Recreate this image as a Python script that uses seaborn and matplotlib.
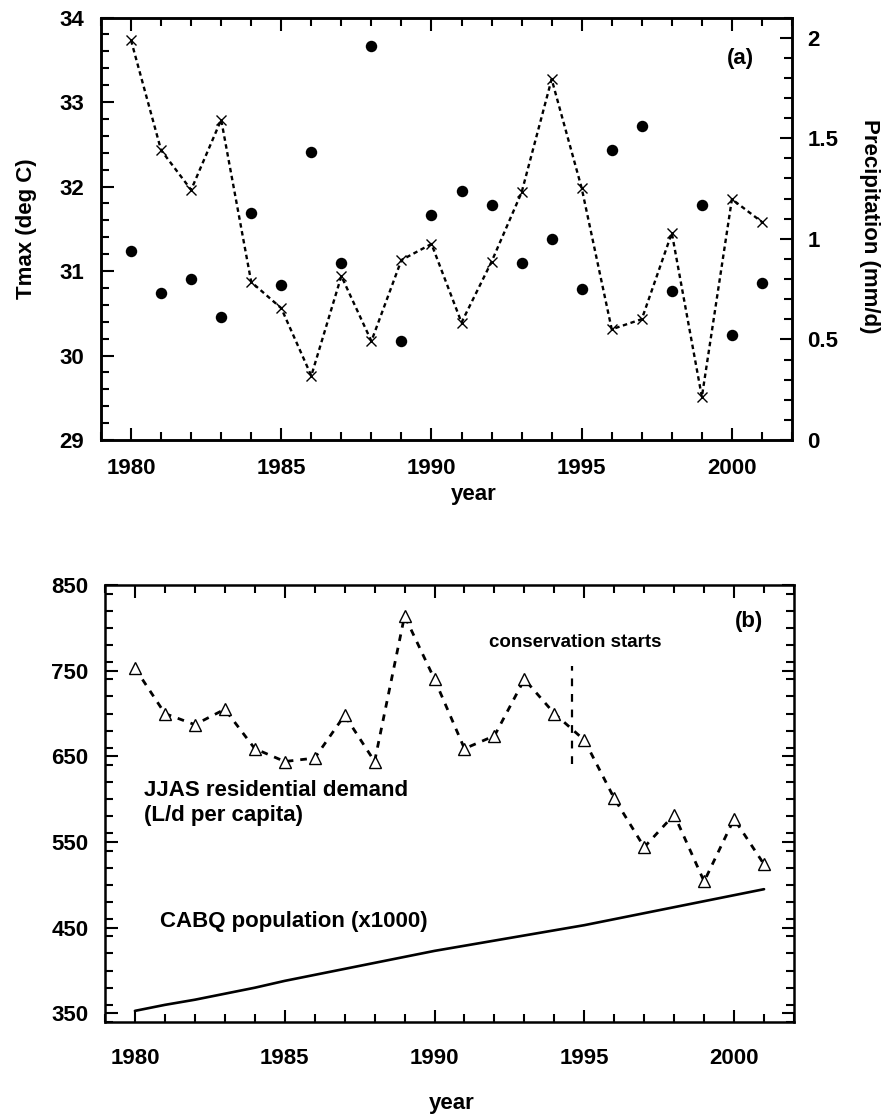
import numpy as np
import pandas as pd
import matplotlib
matplotlib.use("Agg")
import matplotlib.pyplot as plt
import seaborn as sns
from matplotlib.ticker import MultipleLocator

# ---------------- data ----------------
years = list(range(1980, 2002))
tmax = [33.73, 32.43, 31.96, 32.79, 30.87, 30.56, 29.76, 30.94, 30.17, 31.13, 31.32,
        30.39, 31.11, 31.93, 33.27, 31.98, 30.31, 30.43, 31.45, 29.51, 31.85, 31.58]
precip = [0.94, 0.73, 0.80, 0.61, 1.13, 0.77, 1.43, 0.88, 1.96, 0.49, 1.12,
          1.24, 1.17, 0.88, 1.00, 0.75, 1.44, 1.56, 0.74, 1.17, 0.52, 0.78]
demand = [753, 700, 687, 705, 659, 644, 648, 698, 644, 814, 740,
          659, 674, 740, 700, 669, 601, 544, 582, 504, 577, 524]
population = [353, 360, 366, 373, 380, 388, 395, 402, 409, 416, 423,
              429, 435, 441, 447, 453, 460, 467, 474, 481, 488, 495]
conservation_year = 1994.6
conservation_span = [641, 756]

df_a = pd.DataFrame({"year": years, "tmax": tmax, "precip": precip})
df_b = pd.DataFrame({"year": years, "demand": demand, "population": population})

# ---------------- style ----------------
sns.set_style("ticks")
plt.rcParams["font.family"] = ["Liberation Sans", "DejaVu Sans"]
plt.rcParams["font.weight"] = "bold"
plt.rcParams["axes.labelweight"] = "bold"
plt.rcParams["axes.edgecolor"] = "black"
plt.rcParams["xtick.color"] = "black"
plt.rcParams["ytick.color"] = "black"
plt.rcParams["text.color"] = "black"
plt.rcParams["axes.labelcolor"] = "black"

FS = 16
W, H = 882, 1114
fig = plt.figure(figsize=(W / 100, H / 100), dpi=100)
fig.patch.set_facecolor("white")

ax1 = fig.add_axes([101 / W, 1 - 440 / H, 691 / W, 422.5 / H])
ax3 = fig.add_axes([105 / W, 1 - 1022 / H, 689 / W, 437 / H])


def style(ax, top=True, right=True):
    for s in ax.spines.values():
        s.set_linewidth(1.8)
        s.set_color("black")
    ax.tick_params(which="both", direction="in", top=top, right=right,
                   width=1.5, colors="black", labelsize=FS)
    ax.tick_params(which="major", length=9)
    ax.tick_params(which="minor", length=5.5)


# ---------------- panel (a) ----------------
sns.lineplot(data=df_a, x="year", y="tmax", ax=ax1, color="black", lw=1.7,
             linestyle=(0, (1.9, 1.5)), marker="x", ms=7.5, mew=1.0,
             mec="black", mfc="none")
ax2 = ax1.twinx()
sns.scatterplot(data=df_a, x="year", y="precip", ax=ax2, color="black",
                s=68, edgecolor="black", linewidth=0)

ax1.set_xlim(1979, 2002)
ax1.set_ylim(29, 34)
ax2.set_ylim(0, 2.1)
ax1.xaxis.set_major_locator(MultipleLocator(5))
ax1.xaxis.set_minor_locator(MultipleLocator(1))
ax1.yaxis.set_major_locator(MultipleLocator(1))
ax1.yaxis.set_minor_locator(MultipleLocator(0.2))
ax2.yaxis.set_major_locator(MultipleLocator(0.5))
ax2.yaxis.set_minor_locator(MultipleLocator(0.1))
ax2.yaxis.set_major_formatter(plt.FuncFormatter(lambda v, p: f"{v:g}"))

style(ax1, top=True, right=False)
style(ax2, top=False, right=True)
ax2.tick_params(axis="y", which="both", left=False, right=True)
ax1.tick_params(axis="x", which="major", pad=13)
ax1.tick_params(axis="y", which="major", pad=12)
ax2.tick_params(axis="y", which="major", pad=11)

ax1.set_xlabel("year", fontsize=FS, fontweight="bold")
ax1.xaxis.set_label_coords((474 - 101) / 691, (440 - 484) / 422.5)
ax1.set_ylabel("Tmax (deg C)", fontsize=FS, fontweight="bold")
ax1.yaxis.label.set_va("center")
ax1.yaxis.set_label_coords((26 - 101) / 691, 0.5)
ax2.set_ylabel("Precipitation (mm/d)", fontsize=FS, fontweight="bold", rotation=270)
ax2.yaxis.label.set_va("center")
ax2.yaxis.set_label_coords((870 - 101) / 691, 0.505)

ax1.text(2000.3, 33.52, "(a)", fontsize=FS, fontweight="bold", ha="center", va="center")

# ---------------- panel (b) ----------------
sns.lineplot(data=df_b, x="year", y="demand", ax=ax3, color="black", lw=2.0,
             linestyle=(0, (2.4, 2.5)), marker="^", ms=8, mew=1.0,
             mec="black", mfc="white")
sns.lineplot(data=df_b, x="year", y="population", ax=ax3, color="black", lw=1.9)
ax3.plot([conservation_year, conservation_year], conservation_span, color="black",
         lw=1.6, linestyle=(0, (3.5, 3.5)))

ax3.set_xlim(1979, 2002)
ax3.set_ylim(340, 850)
ax3.xaxis.set_major_locator(MultipleLocator(5))
ax3.xaxis.set_minor_locator(MultipleLocator(1))
ax3.set_yticks([350, 450, 550, 650, 750, 850])
ax3.yaxis.set_minor_locator(MultipleLocator(20))
style(ax3, top=True, right=True)
ax3.tick_params(axis="x", which="major", pad=19)
ax3.tick_params(axis="y", which="major", pad=12)

ax3.set_xlabel("year", fontsize=FS, fontweight="bold")
ax3.xaxis.set_label_coords((452 - 105) / 689, (1022 - 1093) / 437)
ax3.set_ylabel("")

ax3.text(2000.5, 807, "(b)", fontsize=FS, fontweight="bold", ha="center", va="center")
ax3.text(1994.7, 783, "conservation starts", fontsize=13.5, fontweight="bold",
         ha="center", va="center")
ax3.text(1980.3, 596, "JJAS residential demand\n(L/d per capita)", fontsize=FS,
         fontweight="bold", ha="left", va="center", linespacing=1.25)
ax3.text(1980.85, 457, "CABQ population (x1000)", fontsize=FS, fontweight="bold",
         ha="left", va="center")

fig.savefig("out.png", dpi=100, facecolor="white")
